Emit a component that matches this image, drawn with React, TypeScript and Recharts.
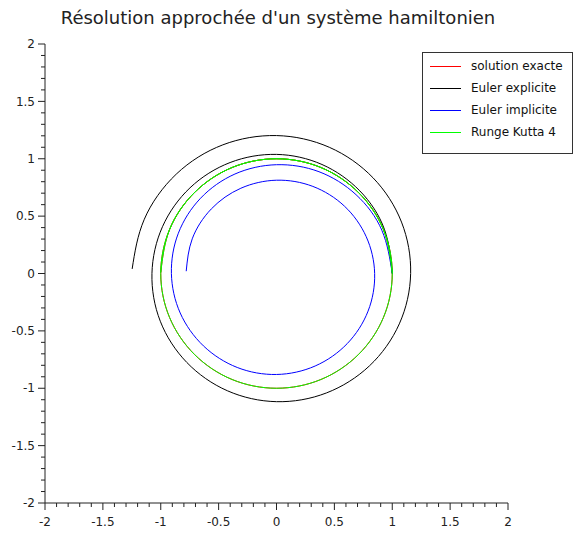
import { LineChart, Line, XAxis, YAxis, Legend } from "recharts";

// tick positions (minor every 0.1, labels on every 0.5)
const TICKS = [
  -2, -1.9, -1.8, -1.7, -1.6, -1.5, -1.4, -1.3, -1.2, -1.1, -1, -0.9, -0.8, -0.7,
  -0.6, -0.5, -0.4, -0.3, -0.2, -0.1, 0, 0.1, 0.2, 0.3, 0.4, 0.5, 0.6, 0.7, 0.8,
  0.9, 1, 1.1, 1.2, 1.3, 1.4, 1.5, 1.6, 1.7, 1.8, 1.9, 2,
];
const MAJOR_TICKS = [-2, -1.5, -1, -0.5, 0, 0.5, 1, 1.5, 2];

// curves, one point every 22.5 degrees over 1.5 turns
const EXACT = [
  { x: 1, y: 0 }, { x: 0.924, y: 0.383 }, { x: 0.707, y: 0.707 }, { x: 0.383, y: 0.924 },
  { x: 0, y: 1 }, { x: -0.383, y: 0.924 }, { x: -0.707, y: 0.707 }, { x: -0.924, y: 0.383 },
  { x: -1, y: 0 }, { x: -0.924, y: -0.383 }, { x: -0.707, y: -0.707 }, { x: -0.383, y: -0.924 },
  { x: 0, y: -1 }, { x: 0.383, y: -0.924 }, { x: 0.707, y: -0.707 }, { x: 0.924, y: -0.383 },
  { x: 1, y: 0 }, { x: 0.924, y: 0.383 }, { x: 0.707, y: 0.707 }, { x: 0.383, y: 0.924 },
  { x: 0, y: 1 }, { x: -0.383, y: 0.924 }, { x: -0.707, y: 0.707 }, { x: -0.924, y: 0.383 },
  { x: -1, y: 0.01 },
];

const EULER_EXPLICIT = [
  { x: 1, y: 0 }, { x: 0.932, y: 0.386 }, { x: 0.72, y: 0.72 }, { x: 0.393, y: 0.95 },
  { x: 0, y: 1.038 }, { x: -0.401, y: 0.967 }, { x: -0.747, y: 0.747 }, { x: -0.985, y: 0.408 },
  { x: -1.076, y: 0 }, { x: -1.004, y: -0.416 }, { x: -0.775, y: -0.775 }, { x: -0.424, y: -1.022 },
  { x: 0, y: -1.117 }, { x: 0.431, y: -1.041 }, { x: 0.804, y: -0.804 }, { x: 1.061, y: -0.439 },
  { x: 1.159, y: 0 }, { x: 1.08, y: 0.448 }, { x: 0.834, y: 0.834 }, { x: 0.456, y: 1.1 },
  { x: 0, y: 1.202 }, { x: -0.464, y: 1.121 }, { x: -0.866, y: 0.866 }, { x: -1.142, y: 0.473 },
  { x: -1.247, y: 0.04 },
];

const EULER_IMPLICIT = [
  { x: 1, y: 0 }, { x: 0.91, y: 0.377 }, { x: 0.687, y: 0.687 }, { x: 0.367, y: 0.887 },
  { x: 0, y: 0.948 }, { x: -0.359, y: 0.867 }, { x: -0.656, y: 0.656 }, { x: -0.848, y: 0.351 },
  { x: -0.908, y: 0 }, { x: -0.832, y: -0.344 }, { x: -0.631, y: -0.631 }, { x: -0.339, y: -0.819 },
  { x: 0, y: -0.88 }, { x: 0.334, y: -0.806 }, { x: 0.611, y: -0.611 }, { x: 0.791, y: -0.328 },
  { x: 0.848, y: 0 }, { x: 0.775, y: 0.321 }, { x: 0.587, y: 0.587 }, { x: 0.314, y: 0.759 },
  { x: 0, y: 0.813 }, { x: -0.308, y: 0.743 }, { x: -0.563, y: 0.563 }, { x: -0.728, y: 0.302 },
  { x: -0.78, y: 0.02 },
];

const RUNGE_KUTTA = [
  { x: 1, y: 0 }, { x: 0.924, y: 0.383 }, { x: 0.707, y: 0.707 }, { x: 0.383, y: 0.924 },
  { x: 0, y: 1 }, { x: -0.383, y: 0.924 }, { x: -0.707, y: 0.707 }, { x: -0.924, y: 0.383 },
  { x: -1, y: 0 }, { x: -0.924, y: -0.383 }, { x: -0.707, y: -0.707 }, { x: -0.383, y: -0.924 },
  { x: 0, y: -1 }, { x: 0.383, y: -0.924 }, { x: 0.707, y: -0.707 }, { x: 0.924, y: -0.383 },
  { x: 1, y: 0 }, { x: 0.924, y: 0.383 }, { x: 0.707, y: 0.707 }, { x: 0.383, y: 0.924 },
  { x: 0, y: 1 }, { x: -0.383, y: 0.924 }, { x: -0.707, y: 0.707 }, { x: -0.924, y: 0.383 },
  { x: -1, y: 0.01 },
];

const SERIES = [
  { name: "solution exacte", data: EXACT, colour: "#ff0000" },
  { name: "Euler explicite", data: EULER_EXPLICIT, colour: "#000000" },
  { name: "Euler implicite", data: EULER_IMPLICIT, colour: "#0000ff" },
  { name: "Runge Kutta 4", data: RUNGE_KUTTA, colour: "#00ff00" },
];

const FONT = "'DejaVu Sans', sans-serif";
const AXIS_COLOUR = "#222";

const isMajor = (v: number) => MAJOR_TICKS.some((m) => Math.abs(m - v) < 1e-6);

function YTick({ x, y, payload }: any) {
  const major = isMajor(payload.value);
  return (
    <g>
      <line x1={x - (major ? 7 : 4)} x2={x} y1={y} y2={y} stroke={AXIS_COLOUR} />
      {major && (
        <text x={x - 10} y={y} dy="0.35em" textAnchor="end" fontSize={12} fontFamily={FONT} fill={AXIS_COLOUR}>
          {payload.value}
        </text>
      )}
    </g>
  );
}

function XTick({ x, y, payload }: any) {
  const major = isMajor(payload.value);
  return (
    <g>
      <line x1={x} x2={x} y1={y} y2={y + (major ? 7 : 4)} stroke={AXIS_COLOUR} />
      {major && (
        <text x={x} y={y + 23} textAnchor="middle" fontSize={12} fontFamily={FONT} fill={AXIS_COLOUR}>
          {payload.value}
        </text>
      )}
    </g>
  );
}

function LegendBox() {
  return (
    <div
      style={{
        width: 149,
        padding: "2px 0 10px",
        border: "1px solid #333",
        background: "#fff",
        fontFamily: FONT,
        fontSize: 12,
        color: "#111",
      }}
    >
      {SERIES.map((s) => (
        <div key={s.name} style={{ display: "flex", alignItems: "center", height: 22 }}>
          <span style={{ marginLeft: 7, width: 31, height: 1, background: s.colour }} />
          <span style={{ marginLeft: 10, whiteSpace: "nowrap" }}>{s.name}</span>
        </div>
      ))}
    </div>
  );
}

export default function App() {
  return (
    <div style={{ position: "absolute", left: 0, top: 0, width: 574, height: 535, background: "#fff" }}>
      <div
        style={{
          position: "absolute",
          top: 6,
          left: 0,
          width: 556,
          textAlign: "center",
          fontFamily: FONT,
          fontSize: 18,
          lineHeight: "24px",
          color: "#222",
        }}
      >
        Résolution approchée d'un système hamiltonien
      </div>
      <LineChart width={574} height={535} margin={{ top: 44, right: 66, bottom: 0, left: 0 }}>
        <XAxis
          type="number"
          dataKey="x"
          domain={[-2, 2]}
          ticks={TICKS}
          interval={0}
          tickSize={0}
          tickMargin={0}
          tickLine={false}
          height={32}
          axisLine={{ stroke: AXIS_COLOUR }}
          tick={<XTick />}
        />
        <YAxis
          type="number"
          dataKey="y"
          domain={[-2, 2]}
          ticks={TICKS}
          interval={0}
          tickSize={0}
          tickMargin={0}
          tickLine={false}
          width={45}
          axisLine={{ stroke: AXIS_COLOUR }}
          tick={<YTick />}
        />
        {SERIES.map((s) => (
          <Line
            key={s.name}
            data={s.data}
            dataKey="y"
            name={s.name}
            type="natural"
            stroke={s.colour}
            strokeWidth={1}
            dot={false}
            activeDot={false}
            isAnimationActive={false}
          />
        ))}
        <Legend
          layout="vertical"
          align="center"
          verticalAlign="middle"
          content={<LegendBox />}
          wrapperStyle={{ position: "absolute", left: 422, top: 52, width: "auto", height: "auto" }}
        />
      </LineChart>
    </div>
  );
}
